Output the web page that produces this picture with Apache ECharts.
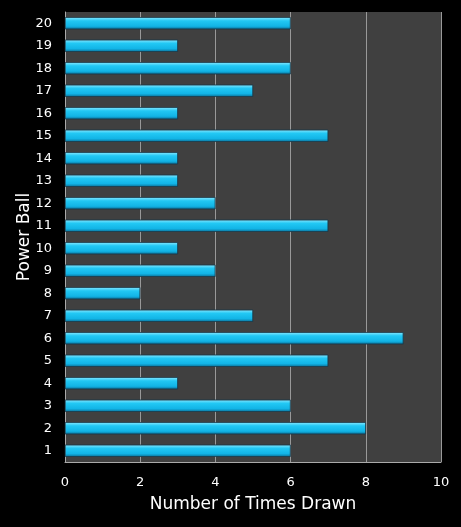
<!DOCTYPE html>
<html>
<head>
<meta charset="utf-8">
<script src="https://cdn.jsdelivr.net/npm/echarts@6/dist/echarts.min.js"></script>
<style>
html,body{margin:0;padding:0;background:#000;}
#main{width:461px;height:527px;}
</style>
</head>
<body>
<div id="main"></div>
<script>
// 数据
var balls = ['1','2','3','4','5','6','7','8','9','10','11','12','13','14','15','16','17','18','19','20'];
var timesDrawn = [6,8,6,3,7,9,5,2,4,3,7,4,3,3,7,3,5,6,3,6];

var myChart = echarts.init(document.getElementById('main'));
var option = {
    backgroundColor: '#000',
    textStyle: {fontFamily: 'DejaVu Sans'},
    grid: {
        left: 65,
        right: 20,
        top: 12,
        bottom: 65,
        show: true,
        backgroundColor: '#404040',
        borderWidth: 0
    },
    xAxis: {
        type: 'value',
        min: 0,
        max: 10,
        interval: 2,
        name: 'Number of Times Drawn',
        nameLocation: 'middle',
        nameGap: 34,
        nameMoveOverlap: false,
        nameTextStyle: {color: '#fff', fontSize: 17},
        axisLine: {show: true, lineStyle: {color: '#aaa'}},
        axisTick: {show: false},
        axisLabel: {color: '#fff', fontSize: 13, margin: 14},
        splitLine: {show: true, lineStyle: {color: '#999'}}
    },
    yAxis: {
        type: 'category',
        data: balls,
        name: 'Power Ball',
        nameLocation: 'middle',
        nameGap: 32,
        nameMoveOverlap: false,
        nameTextStyle: {color: '#fff', fontSize: 17},
        axisLine: {show: true, lineStyle: {color: '#aaa'}},
        axisTick: {show: false},
        axisLabel: {color: '#fff', fontSize: 13, margin: 13}
    },
    series: [{
        type: 'bar',
        data: timesDrawn,
        barWidth: 12,
        itemStyle: {
            color: new echarts.graphic.LinearGradient(0, 0, 0, 1, [
                {offset: 0, color: '#8ae8ff'},
                {offset: 0.3, color: '#22c8f4'},
                {offset: 0.75, color: '#12b4e6'},
                {offset: 1, color: '#0a6f96'}
            ]),
            borderColor: '#1a3a4a',
            borderWidth: 0.5
        }
    }]
};
myChart.setOption(option);
</script>
</body>
</html>
